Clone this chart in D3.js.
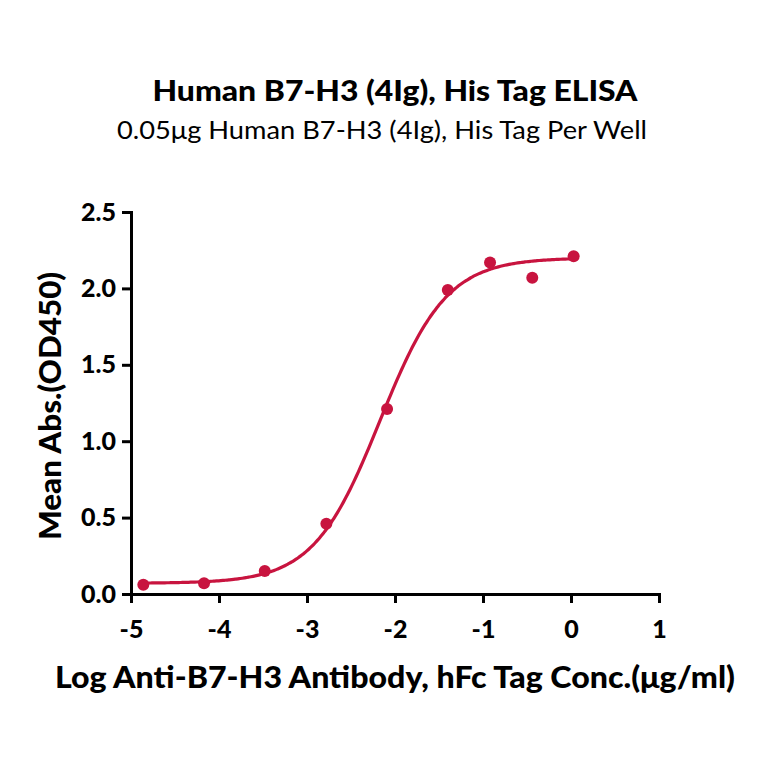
<!DOCTYPE html>
<html>
<head>
<meta charset="utf-8">
<script src="https://cdn.jsdelivr.net/npm/d3@7"></script>
<style>
  body { margin: 0; background: #fff; }
  svg { display: block; }
  text { font-family: "Source Sans Pro", Lato, "Noto Sans", sans-serif; }
</style>
</head>
<body>
<div id="chart"></div>
<script>
// measured points: log concentration vs mean absorbance
const logConc = [-4.86, -4.17, -3.48, -2.78, -2.09, -1.40, -0.92, -0.44, 0.03];
const meanAbs = [0.06, 0.07, 0.15, 0.46, 1.21, 1.99, 2.17, 2.07, 2.21];

// four parameter logistic fit
const fitBottom = 0.07;
const fitTop = 2.20;
const fitLogEC50 = -2.17;
const fitHill = 1.15;

const xTicks = [-5, -4, -3, -2, -1, 0, 1];
const yTicks = [0, 0.5, 1.0, 1.5, 2.0, 2.5];

const color = '#c8143f';
const width = 764, height = 764;
const margin = { left: 131, right: 105, top: 212, bottom: 170 };

const svg = d3.select('#chart').append('svg')
  .attr('width', width)
  .attr('height', height);

const x = d3.scaleLinear().domain([-5, 1]).range([margin.left, width - margin.right]);
const y = d3.scaleLinear().domain([0, 2.5]).range([height - margin.bottom, margin.top]);

// axes
const gx = svg.append('g')
  .attr('transform', `translate(0,${y(0)})`)
  .call(d3.axisBottom(x).tickValues(xTicks).tickSize(9).tickPadding(17).tickFormat(d3.format('d')));
const gy = svg.append('g')
  .attr('transform', `translate(${x(-5)},0)`)
  .call(d3.axisLeft(y).tickValues(yTicks).tickSize(9).tickPadding(6).tickFormat(d3.format('.1f')));

[gx, gy].forEach(g => {
  g.select('.domain').attr('stroke', '#000').attr('stroke-width', 3);
  g.selectAll('.tick line').attr('stroke', '#000').attr('stroke-width', 3);
  g.selectAll('.tick text')
    .attr('fill', '#000')
    .style('font-size', '25px')
    .style('font-weight', '900');
});
gx.selectAll('.tick text').text(d => d < 0 ? '-' + Math.abs(d) : d);

// fitted curve
const fourPL = lx => fitBottom + (fitTop - fitBottom) / (1 + Math.pow(10, (fitLogEC50 - lx) * fitHill));
const xs = d3.range(0, 201).map(i => logConc[0] + (logConc[logConc.length - 1] - logConc[0]) * i / 200);
svg.append('path')
  .datum(xs)
  .attr('fill', 'none')
  .attr('stroke', color)
  .attr('stroke-width', 3.2)
  .attr('d', d3.line().x(d => x(d)).y(d => y(fourPL(d))).curve(d3.curveBasis));

// points
svg.selectAll('.dot')
  .data(logConc.map((d, i) => ({ lx: d, abs: meanAbs[i] })))
  .enter()
  .append('circle')
  .attr('class', 'dot')
  .attr('cx', d => x(d.lx))
  .attr('cy', d => y(d.abs))
  .attr('r', 6)
  .attr('fill', color);

// titles
svg.append('text')
  .attr('x', 395).attr('y', 101)
  .attr('text-anchor', 'middle')
  .attr('textLength', 485).attr('lengthAdjust', 'spacingAndGlyphs')
  .style('font-size', '28px').style('font-weight', '900')
  .text('Human B7-H3 (4Ig), His Tag ELISA');
svg.append('text')
  .attr('x', 382).attr('y', 139)
  .attr('text-anchor', 'middle')
  .attr('textLength', 530).attr('lengthAdjust', 'spacingAndGlyphs')
  .style('font-size', '25px')
  .text('0.05μg Human B7-H3 (4Ig), His Tag Per Well');

svg.append('text')
  .attr('x', 395).attr('y', 688)
  .attr('text-anchor', 'middle')
  .attr('textLength', 680).attr('lengthAdjust', 'spacingAndGlyphs')
  .style('font-size', '31px').style('font-weight', '900')
  .text('Log Anti-B7-H3 Antibody, hFc Tag Conc.(μg/ml)');

svg.append('text')
  .attr('transform', 'translate(61,406) rotate(-90)')
  .attr('text-anchor', 'middle')
  .attr('textLength', 268).attr('lengthAdjust', 'spacingAndGlyphs')
  .style('font-size', '30px').style('font-weight', '900')
  .text('Mean Abs.(OD450)');
</script>
</body>
</html>
